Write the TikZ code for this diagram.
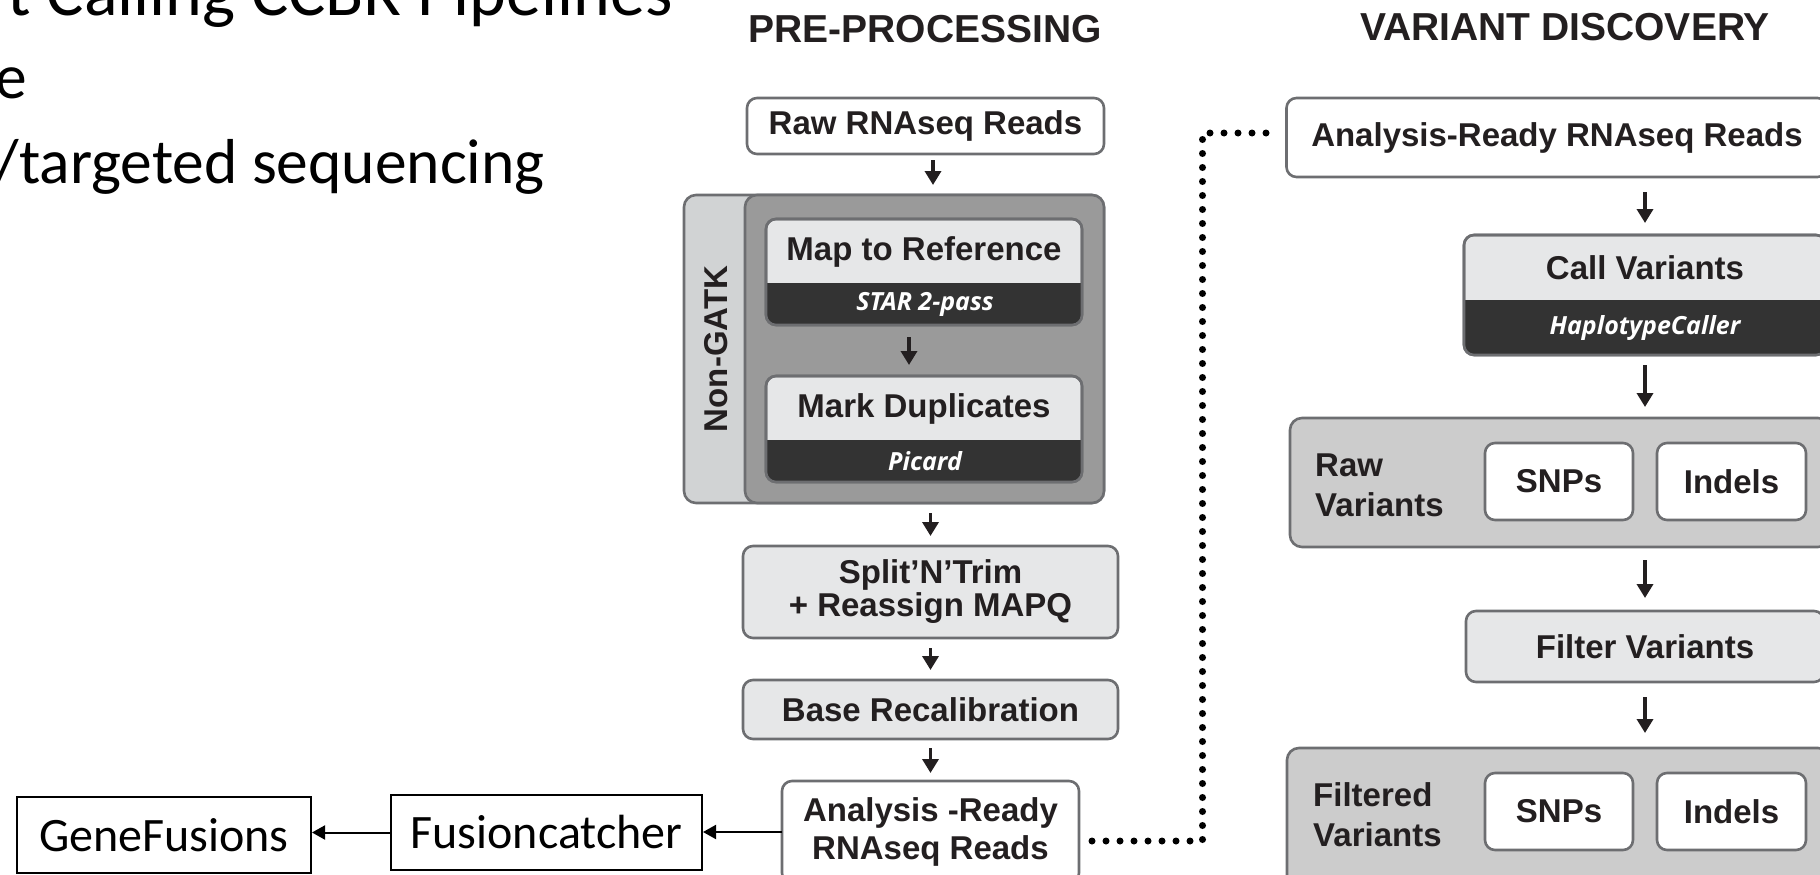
\documentclass[tikz,border=0pt]{standalone}
\usepackage{fontspec}
\setmainfont{Liberation Sans}
\newfontfamily\slidefont{Carlito}
\newfontfamily\toolfont{Open Sans}
\usetikzlibrary{arrows.meta}

\definecolor{boxline}{HTML}{6D6E71}
\definecolor{litefill}{HTML}{E6E7E8}
\definecolor{darkfill}{HTML}{333333}
\definecolor{midgray}{HTML}{9A9A9A}
\definecolor{stripgray}{HTML}{D1D3D4}
\definecolor{groupgray}{HTML}{CCCCCC}
\definecolor{inkcol}{HTML}{231F20}

\tikzset{
  stepbox/.style={draw=boxline, line width=2.6pt, rounded corners=10pt, fill=litefill, inner sep=0pt, outer sep=0pt, align=center, text=inkcol, font=\fontsize{33}{39}\selectfont\bfseries},
  readbox/.style={stepbox, fill=white},
  groupbox/.style={stepbox, fill=groupgray, rounded corners=12pt},
  gatkbox/.style={stepbox, rounded corners=12pt},
  steptext/.style={text=inkcol, inner sep=0pt, font=\fontsize{33}{40}\selectfont\bfseries},
  tooltext/.style={text=white, inner sep=0pt, font=\toolfont\bfseries\itshape\fontsize{25}{30}\selectfont},
  heading/.style={text=inkcol, inner sep=0pt, font=\fontsize{39}{45}\selectfont\bfseries},
  slidetext/.style={text=black, inner sep=0pt, anchor=base east},
  plainbox/.style={draw=black, line width=2pt, inner sep=0pt, font=\slidefont\fontsize{48}{58}\selectfont},
  flow/.style={-{Triangle[width=16pt,length=14pt]}, line width=3.5pt, draw=inkcol},
  fusionflow/.style={-{Triangle[width=14pt,length=13pt]}, line width=2pt, draw=black},
  dotline/.style={line width=7pt, line cap=round, dash pattern=on 0pt off 14pt, draw=black}
}

\begin{document}
\begin{tikzpicture}[x=1pt, y=-1pt]
  \useasboundingbox (0,0) rectangle (1820,875);
  \clip (0,0) rectangle (1820,875);

  % slide text
  \node[slidetext, font=\slidefont\fontsize{70}{84}\selectfont] (slidetitle) at (673,16) {t Calling CCBR Pipelines};
  \node[slidetext, font=\slidefont\fontsize{63.5}{76}\selectfont] (slideline) at (27,99) {e};
  \node[slidetext, font=\slidefont\fontsize{63.5}{76}\selectfont] (slidetarget) at (545,183) {/targeted sequencing};

  % headings
  \node[heading] (prehead) at (925,29) {PRE-PROCESSING};
  \node[heading] (varhead) at (1565,27) {VARIANT DISCOVERY};

  % pre-processing column
  \node[readbox, minimum width=357pt, minimum height=56pt] (rawreads) at (925.5,126) {Raw RNAseq Reads};

  \node[gatkbox, fill=stripgray, minimum width=420pt, minimum height=308pt] (gatk) at (894,349) {};
  \node[gatkbox, fill=midgray, minimum width=359pt, minimum height=308pt] (gatkinner) at (924.5,349) {};
  \node[steptext, rotate=90, font=\fontsize{33}{38}\selectfont\bfseries] (gatklabel) at (716,349) {Non-GATK};

  \node[stepbox, minimum width=316pt, minimum height=106pt] (mapref) at (924,272) {};
  \begin{scope}
    \clip (700,283) rectangle (1150,340);
    \fill[darkfill, rounded corners=10pt] (mapref.north west) rectangle (mapref.south east);
  \end{scope}
  \draw[boxline, line width=2.6pt, rounded corners=10pt] (mapref.north west) rectangle (mapref.south east);
  \node[steptext] (mapname) at (924,252) {Map to Reference};
  \node[tooltext] (maptool) at (925,304) {STAR 2-pass};

  \node[stepbox, minimum width=316pt, minimum height=106pt] (markdup) at (924,429) {};
  \begin{scope}
    \clip (700,440) rectangle (1150,500);
    \fill[darkfill, rounded corners=10pt] (markdup.north west) rectangle (markdup.south east);
  \end{scope}
  \draw[boxline, line width=2.6pt, rounded corners=10pt] (markdup.north west) rectangle (markdup.south east);
  \node[steptext] (markname) at (924,409) {Mark Duplicates};
  \node[tooltext] (marktool) at (925,461) {Picard};

  \node[stepbox, minimum width=375pt, minimum height=92pt, font=\fontsize{33}{33}\selectfont\bfseries] (splittrim) at (930.5,592) {Split’N’Trim\\+ Reassign MAPQ};
  \node[stepbox, minimum width=375pt, minimum height=59pt] (baserecal) at (930.5,709.5) {Base Recalibration};
  \node[readbox, minimum width=297pt, minimum height=102pt, font=\fontsize{33}{38}\selectfont\bfseries] (readyleft) at (930.5,832) {Analysis -Ready\\RNAseq Reads};

  % fusion branch
  \node[plainbox, minimum width=311pt, minimum height=75pt] (fusioncatcher) at (546.5,832.5) {Fusioncatcher};
  \node[plainbox, minimum width=294pt, minimum height=76pt] (genefusions) at (164,835) {GeneFusions};

  % variant discovery column
  \node[readbox, minimum width=541pt, minimum height=79pt] (readyright) at (1557,137.5) {Analysis-Ready RNAseq Reads};

  \node[stepbox, minimum width=362pt, minimum height=120pt] (callvar) at (1645,295) {};
  \begin{scope}
    \clip (1400,300) rectangle (1850,370);
    \fill[darkfill, rounded corners=10pt] (callvar.north west) rectangle (callvar.south east);
  \end{scope}
  \draw[boxline, line width=2.6pt, rounded corners=10pt] (callvar.north west) rectangle (callvar.south east);
  \node[steptext] (callname) at (1645,268) {Call Variants};
  \node[tooltext] (calltool) at (1645,328) {HaplotypeCaller};

  \node[groupbox, minimum width=540pt, minimum height=129pt] (rawgroup) at (1560,482.5) {};
  \node[steptext, anchor=west, align=left] (rawlabel) at (1315,485) {Raw\\Variants};
  \node[readbox, minimum width=148pt, minimum height=77pt] (rawsnps) at (1559,481.5) {SNPs};
  \node[readbox, minimum width=149pt, minimum height=77pt] (rawindels) at (1731.5,481.5) {Indels};

  \node[stepbox, minimum width=358pt, minimum height=71pt] (filtervar) at (1645,646.5) {Filter Variants};

  \node[groupbox, minimum width=543pt, minimum height=140pt] (filtgroup) at (1558.5,818) {};
  \node[steptext, anchor=west, align=left] (filtlabel) at (1313,815) {Filtered\\Variants};
  \node[readbox, minimum width=148pt, minimum height=77pt] (filtsnps) at (1559,811.5) {SNPs};
  \node[readbox, minimum width=149pt, minimum height=77pt] (filtindels) at (1731.5,811.5) {Indels};

  % arrows
  \draw[flow, shorten <=6pt, shorten >=10pt] ([xshift=7.5pt]rawreads.south) -- ([xshift=7.5pt]rawreads.south |- gatk.north);
  \draw[flow, shorten <=12pt, shorten >=11pt] ([xshift=-15pt]mapref.south) -- ([xshift=-15pt]markdup.north);
  \draw[flow, shorten <=10pt, shorten >=10pt] (splittrim.north |- gatk.south) -- (splittrim.north);
  \draw[flow, shorten <=10pt, shorten >=10pt] (splittrim.south) -- (baserecal.north);
  \draw[flow, shorten <=9pt, shorten >=8pt] (baserecal.south) -- (readyleft.north);

  \draw[flow, shorten <=15pt, shorten >=12pt] (callvar.north |- readyright.south) -- (callvar.north);
  \draw[flow, shorten <=10pt, shorten >=11pt] (callvar.south) -- (callvar.south |- rawgroup.north);
  \draw[flow, shorten <=13pt, shorten >=13pt] (filtervar.north |- rawgroup.south) -- (filtervar.north);
  \draw[flow, shorten <=15pt, shorten >=15pt] (filtervar.south) -- (filtervar.south |- filtgroup.north);

  \draw[fusionflow] (readyleft.west) -- (fusioncatcher.east |- readyleft.west);
  \draw[fusionflow] (fusioncatcher.west) -- (genefusions.east |- fusioncatcher.west);

  % dotted link between the two columns
  \draw[dotline] ([xshift=13pt, yshift=-9pt]readyleft.east) -| ([xshift=-84pt, yshift=4.5pt]readyright.west) -- ([xshift=-20pt, yshift=4.5pt]readyright.west);
\end{tikzpicture}
\end{document}
